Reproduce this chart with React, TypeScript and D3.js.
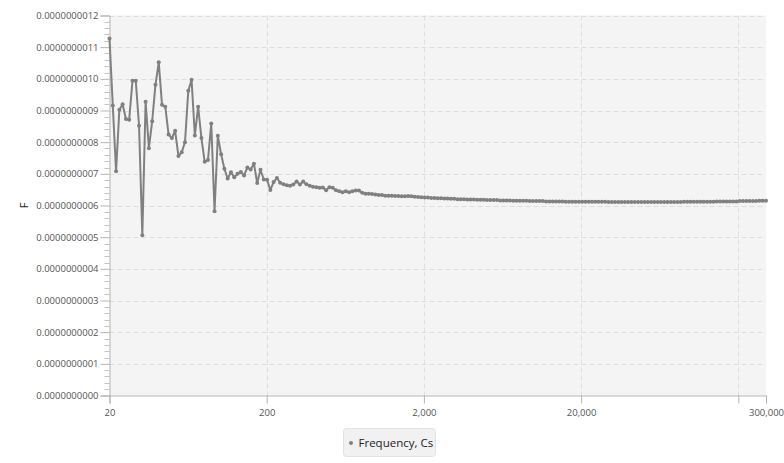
import React, { useEffect, useRef } from "react";
import * as d3 from "d3";

// sweep: log-spaced frequencies from 20 Hz to 300 kHz, one point per reading
const sweepStart = 20;
const sweepStop = 300000;

// capacitance readings, in units of 1e-10 F
const capValues = [
  11.27, 9.16, 7.08, 9.02, 9.2, 8.73, 8.71, 9.94, 9.94, 8.52, 5.06, 9.28, 7.81,
  8.66, 9.81, 10.52, 9.18, 9.12, 8.24, 8.13, 8.36, 7.56, 7.68, 8.0, 9.62, 9.97,
  8.21, 9.12, 8.13, 7.38, 7.44, 8.59, 5.82, 8.2, 7.62, 7.16, 6.85, 7.05, 6.89,
  7.0, 7.06, 6.95, 7.2, 7.14, 7.32, 6.71, 7.13, 6.82, 6.81, 6.49, 6.74, 6.87,
  6.72, 6.67, 6.64, 6.62, 6.66, 6.76, 6.66, 6.76, 6.67, 6.62, 6.59, 6.58, 6.56,
  6.57, 6.48, 6.58, 6.56, 6.48, 6.45, 6.42, 6.45, 6.42, 6.45, 6.47, 6.47, 6.4,
  6.37, 6.37, 6.36, 6.35, 6.33, 6.33, 6.31, 6.31, 6.31, 6.3, 6.3,
  6.29, 6.29, 6.3, 6.29, 6.28, 6.27, 6.26, 6.25, 6.25, 6.24, 6.24,
  6.23, 6.23, 6.22, 6.22, 6.21, 6.21, 6.2, 6.2, 6.2, 6.19, 6.19, 6.19, 6.18,
  6.18, 6.18, 6.17, 6.17, 6.17, 6.17, 6.16,
  6.16, 6.16, 6.16, 6.15, 6.15, 6.15, 6.15, 6.15, 6.14, 6.14, 6.14, 6.14, 6.14,
  6.13, 6.13, 6.13, 6.13, 6.13, 6.13, 6.12,
  6.12, 6.12, 6.12, 6.12, 6.12, 6.12, 6.12, 6.12, 6.12, 6.12, 6.12, 6.12, 6.11,
  6.11, 6.11, 6.11, 6.11, 6.11, 6.11, 6.11,
  6.11, 6.11, 6.11, 6.11, 6.11, 6.11, 6.11, 6.11, 6.11, 6.11, 6.11, 6.11, 6.11,
  6.11, 6.11, 6.12, 6.12, 6.12, 6.12, 6.12,
  6.12, 6.12, 6.12, 6.12, 6.12, 6.13, 6.13, 6.13, 6.13, 6.13, 6.13, 6.13, 6.14,
  6.14, 6.14, 6.14, 6.14, 6.14, 6.15, 6.15, 6.15,
];

const xTickValues = [20, 200, 2000, 20000, 200000, 300000];
const xTickLabels = ["20", "200", "2,000", "20,000", "", "300,000"];
const xGridValues = [200, 2000, 20000, 200000];
const yTickValues = [0, 1, 2, 3, 4, 5, 6, 7, 8, 9, 10, 11, 12];

const seriesName = "Frequency, Cs";
const yAxisTitle = "F";

const width = 784;
const height = 463;
const margin = { top: 15.5, right: 18, bottom: 67.5, left: 109.5 };
const FONT = "'Open Sans', 'Noto Sans', sans-serif";

const App: React.FC = () => {
  const svgRef = useRef<SVGSVGElement>(null);

  useEffect(() => {
    if (!svgRef.current) return;
    const svg = d3.select(svgRef.current);
    svg.selectAll("*").remove();

    const n = capValues.length;
    const logStep = Math.log10(sweepStop / sweepStart) / (n - 1);
    const data: [number, number][] = capValues.map((v, i) => [
      sweepStart * Math.pow(10, i * logStep),
      v,
    ]);

    const left = margin.left;
    const right = width - margin.right;
    const top = margin.top;
    const bottom = height - margin.bottom;

    const xScale = d3
      .scaleLog()
      .domain([sweepStart, sweepStop])
      .range([left, right]);
    const yScale = d3.scaleLinear().domain([0, 12]).range([bottom, top]);

    // plot background
    svg
      .append("rect")
      .attr("x", left)
      .attr("y", top)
      .attr("width", right - left)
      .attr("height", bottom - top)
      .attr("fill", "#f4f4f4");

    // grid
    svg
      .append("g")
      .selectAll("line")
      .data(yTickValues.slice(1))
      .join("line")
      .attr("x1", left)
      .attr("x2", right)
      .attr("y1", (d) => Math.round(yScale(d)) + 0.5)
      .attr("y2", (d) => Math.round(yScale(d)) + 0.5)
      .attr("stroke", "#dedede")
      .attr("stroke-dasharray", "5,3");

    svg
      .append("g")
      .selectAll("line")
      .data(xGridValues)
      .join("line")
      .attr("x1", (d) => Math.round(xScale(d)) + 0.5)
      .attr("x2", (d) => Math.round(xScale(d)) + 0.5)
      .attr("y1", top)
      .attr("y2", bottom)
      .attr("stroke", "#dedede")
      .attr("stroke-dasharray", "5,3");

    // x axis
    const xAxis = d3
      .axisBottom(xScale)
      .tickValues(xTickValues)
      .tickFormat((_, i) => xTickLabels[i])
      .tickSize(8)
      .tickPadding(6);
    const gx = svg
      .append("g")
      .attr("transform", `translate(0, ${bottom})`)
      .call(xAxis);
    gx.select(".domain").attr("stroke", "#b5b5b5");
    gx.selectAll(".tick line").attr("stroke", "#b5b5b5");
    gx.selectAll(".tick text")
      .attr("fill", "#555")
      .style("font-family", FONT)
      .style("font-size", "9.5px");

    // y axis: minor ticks
    svg
      .append("g")
      .selectAll("line")
      .data(d3.range(0, 60).filter((k) => k % 5 !== 0).map((k) => k / 5))
      .join("line")
      .attr("x1", left - 5)
      .attr("x2", left)
      .attr("y1", (d) => Math.round(yScale(d)) + 0.5)
      .attr("y2", (d) => Math.round(yScale(d)) + 0.5)
      .attr("stroke", "#c4c4c4");

    const yAxis = d3
      .axisLeft(yScale)
      .tickValues(yTickValues)
      .tickFormat((d) => ((d as number) * 1e-10).toFixed(10))
      .tickSize(9)
      .tickPadding(2);
    const gy = svg
      .append("g")
      .attr("transform", `translate(${left}, 0)`)
      .call(yAxis);
    gy.select(".domain").attr("stroke", "#b5b5b5");
    gy.selectAll(".tick line").attr("stroke", "#b5b5b5");
    gy.selectAll(".tick text")
      .attr("fill", "#555")
      .style("font-family", FONT)
      .style("font-size", "9.5px");

    // y axis title
    svg
      .append("text")
      .attr("transform", `translate(28, ${(top + bottom) / 2}) rotate(-90)`)
      .attr("text-anchor", "middle")
      .attr("fill", "#222")
      .style("font-family", FONT)
      .style("font-size", "11px")
      .text(yAxisTitle);

    // series
    const line = d3
      .line<[number, number]>()
      .x((d) => xScale(d[0]))
      .y((d) => yScale(d[1]));
    svg
      .append("path")
      .datum(data)
      .attr("fill", "none")
      .attr("stroke", "#808080")
      .attr("stroke-width", 2)
      .attr("stroke-linejoin", "round")
      .attr("d", line);

    svg
      .append("g")
      .selectAll("circle")
      .data(data)
      .join("circle")
      .attr("cx", (d) => xScale(d[0]))
      .attr("cy", (d) => yScale(d[1]))
      .attr("r", 2)
      .attr("fill", "#808080");

    // legend
    const lg = svg.append("g").attr("transform", "translate(343.5, 428.5)");
    lg.append("rect")
      .attr("width", 92)
      .attr("height", 28)
      .attr("rx", 3)
      .attr("fill", "#f1f1f1")
      .attr("stroke", "#e2e2e2");
    lg.append("circle")
      .attr("cx", 7.5)
      .attr("cy", 14.5)
      .attr("r", 2)
      .attr("fill", "#808080");
    lg.append("text")
      .attr("x", 15)
      .attr("y", 18.5)
      .attr("fill", "#222")
      .style("font-family", FONT)
      .style("font-size", "11.5px")
      .text(seriesName);
  }, []);

  return (
    <svg
      ref={svgRef}
      width={width}
      height={height}
      style={{ position: "absolute", left: 0, top: 0, background: "#fff" }}
    />
  );
};

export default App;
